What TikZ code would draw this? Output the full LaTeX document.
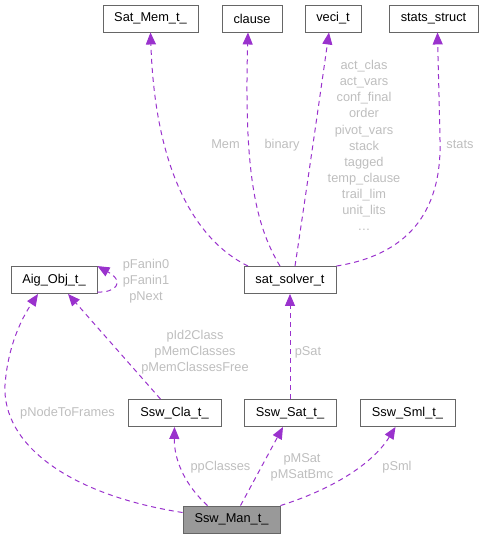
\documentclass[tikz,border=0pt]{standalone}
\usepackage{fontspec}
\setmainfont{Liberation Sans}
\usetikzlibrary{arrows.meta}
\definecolor{edgecol}{HTML}{9A32CD}
\definecolor{lblcol}{HTML}{BEBEBE}
\definecolor{boxcol}{HTML}{666666}
\definecolor{mancol}{HTML}{999999}
\begin{document}
\begin{tikzpicture}[x=1pt,y=-1pt,
	box/.style={draw=boxcol,line width=0.9pt,fill=white,minimum height=27pt,inner sep=0pt,font=\fontsize{12.8}{15}\selectfont},
	lbl/.style={text=lblcol,align=center,inner sep=0pt,font=\fontsize{12.8}{16}\selectfont},
	rel/.style={draw=edgecol,line width=1pt,dash pattern=on 5pt off 4pt,-{Triangle[length=12pt,width=10pt]}}]
			\useasboundingbox (0,0) rectangle (485,539);
			% classes
			\node[box,minimum width=95pt] (sm) at (150.5,18.5) {Sat\_Mem\_t\_};
			\node[box,minimum width=60pt] (cl) at (252,18.5) {clause};
			\node[box,minimum width=56pt] (vc) at (333,18.5) {veci\_t};
			\node[box,minimum width=89pt] (st) at (433.5,18.5) {stats\_struct};
			\node[box,minimum width=86pt] (aig) at (54,280) {Aig\_Obj\_t\_};
			\node[box,minimum width=92pt] (sat) at (290,280) {sat\_solver\_t};
			\node[box,minimum width=93pt] (cla) at (174.5,413) {Ssw\_Cla\_t\_};
			\node[box,minimum width=92pt] (ssat) at (290,413) {Ssw\_Sat\_t\_};
			\node[box,minimum width=95pt] (sml) at (407.5,413) {Ssw\_Sml\_t\_};
			\node[box,minimum width=97pt,fill=mancol] (man) at (231.5,519.5) {Ssw\_Man\_t\_};
			% relations
			\draw[rel] ([yshift=7pt]man.west) .. controls (70,495) and (2,445) .. (5,385) .. controls (8,345) and (22,318) .. ([xshift=-16pt]aig.south);
			\draw[rel] ([xshift=-14pt]cla.north) -- ([xshift=14pt]aig.south);
			\draw[rel] ([yshift=-12pt]aig.east) .. controls (115,293) and (126,282) .. (aig.north east);
			\draw[rel] ([xshift=-42pt]sat.north) .. controls (195,240) and (155,170) .. (sm.south);
			\draw[rel] ([xshift=-10pt]sat.north) .. controls (255,225) and (244,170) .. ([xshift=-4pt]cl.south);
			\draw[rel] ([xshift=5pt]sat.north) .. controls (305,200) and (318,110) .. ([xshift=-4pt]vc.south);
			\draw[rel] (sat.north east) .. controls (405,255) and (442,215) .. (440,140) .. controls (439,90) and (438,60) .. ([xshift=4pt]st.south);
			\draw[rel] (ssat.north) -- (sat.south);
			\draw[rel] ([xshift=-24pt]man.north) .. controls (185,485) and (174,460) .. (cla.south);
			\draw[rel] ([xshift=9pt]man.north) -- ([xshift=-7pt]ssat.south);
			\draw[rel] (man.north east) .. controls (330,490) and (372,465) .. ([xshift=-12pt]sml.south);
			% member labels
			\node[lbl] (lnf) at (67.5,413) {pNodeToFrames};
			\node[lbl] (lcla) at (195,352.5) {pId2Class\\pMemClasses\\pMemClassesFree};
			\node[lbl] (lfan) at (146,281) {pFanin0\\pFanin1\\pNext};
			\node[lbl,anchor=base] (lmem) at (225.5,148.6) {Mem};
			\node[lbl,anchor=base] (lbin) at (282,148.6) {binary};
			\foreach \f [count=\i] in {act\_clas,act\_vars,conf\_final,order,pivot\_vars,stack,tagged,temp\_clause,trail\_lim,unit\_lits,\dots}
			\node[lbl,anchor=base] (lv\i) at (364,53.5+16.1*\i) {\f};
			\node[lbl,anchor=base] (lst) at (460,148.6) {stats};
			\node[lbl] (lps) at (308,352) {pSat};
			\node[lbl] (lpc) at (220.5,467) {ppClasses};
			\node[lbl] (lms) at (302,467) {pMSat\\pMSatBmc};
			\node[lbl] (lsml) at (397,467) {pSml};
	\end{tikzpicture}
\end{document}
